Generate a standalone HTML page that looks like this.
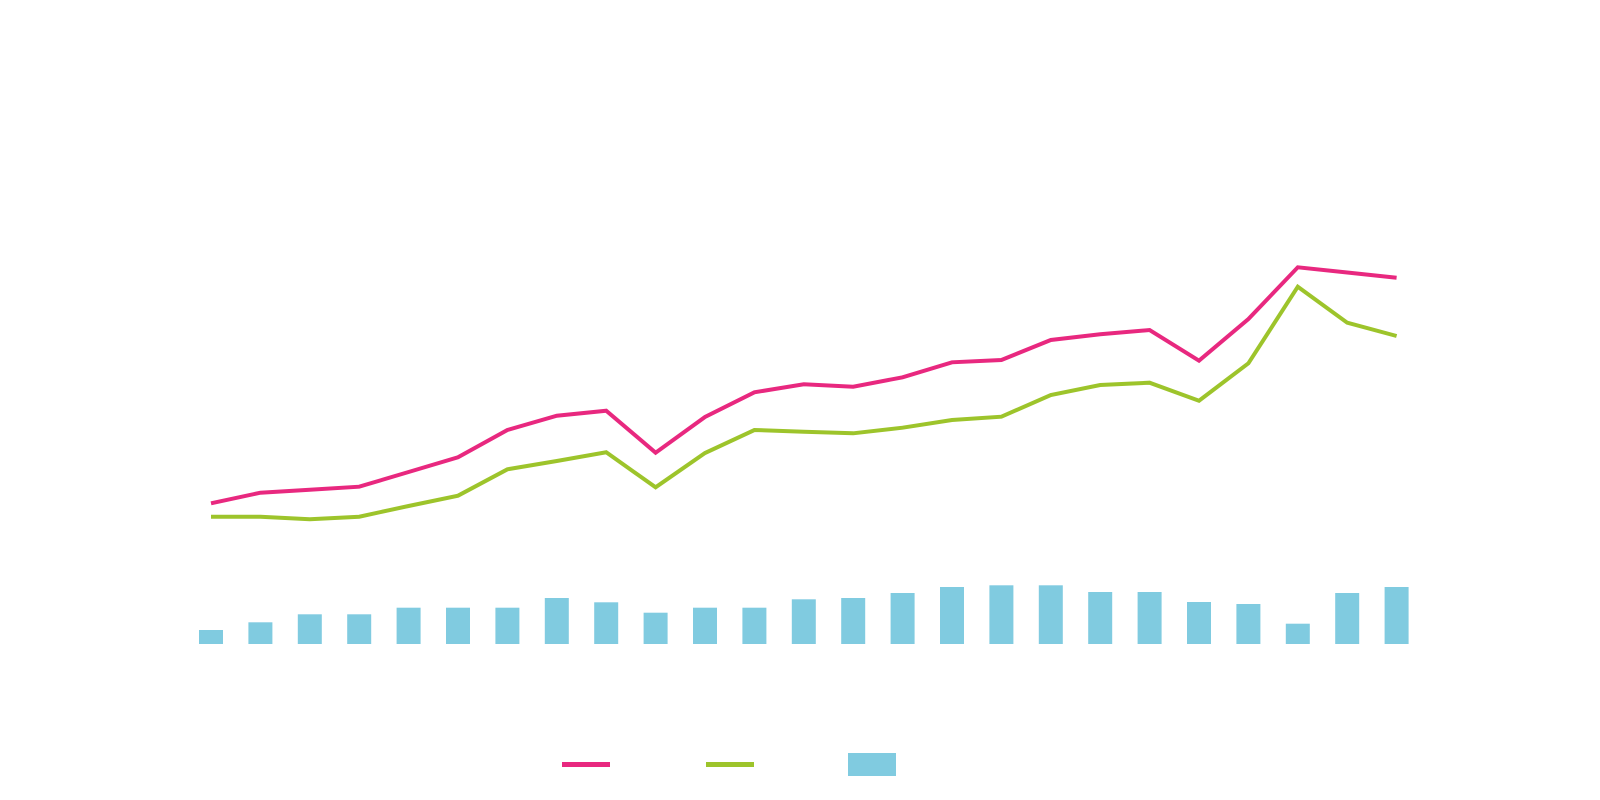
<!DOCTYPE html>
<html>
<head>
<meta charset="utf-8">
<style>
  html, body { margin: 0; padding: 0; background: #ffffff; }
  body { width: 1600px; height: 800px; overflow: hidden; font-family: "Liberation Sans", sans-serif; }
  svg { display: block; }
</style>
</head>
<body>
<svg width="1600" height="800" viewBox="0 0 1600 800" xmlns="http://www.w3.org/2000/svg">
  <rect x="0" y="0" width="1600" height="800" fill="#ffffff"/>
  <g fill="#80cbe0">
    <rect x="199" y="630" width="24" height="14"/>
    <rect x="248.4" y="622.3" width="24" height="21.7"/>
    <rect x="297.8" y="614.3" width="24" height="29.7"/>
    <rect x="347.2" y="614.3" width="24" height="29.7"/>
    <rect x="396.6" y="607.7" width="24" height="36.3"/>
    <rect x="446" y="607.7" width="24" height="36.3"/>
    <rect x="495.4" y="607.7" width="24" height="36.3"/>
    <rect x="544.8" y="598" width="24" height="46"/>
    <rect x="594.2" y="602.3" width="24" height="41.7"/>
    <rect x="643.6" y="612.7" width="24" height="31.3"/>
    <rect x="693" y="607.7" width="24" height="36.3"/>
    <rect x="742.4" y="607.7" width="24" height="36.3"/>
    <rect x="791.8" y="599.3" width="24" height="44.7"/>
    <rect x="841.2" y="598" width="24" height="46"/>
    <rect x="890.6" y="593" width="24" height="51"/>
    <rect x="940" y="587" width="24" height="57"/>
    <rect x="989.4" y="585.3" width="24" height="58.7"/>
    <rect x="1038.8" y="585.3" width="24" height="58.7"/>
    <rect x="1088.2" y="592" width="24" height="52"/>
    <rect x="1137.6" y="592" width="24" height="52"/>
    <rect x="1187" y="602" width="24" height="42"/>
    <rect x="1236.4" y="604" width="24" height="40"/>
    <rect x="1285.8" y="623.7" width="24" height="20.3"/>
    <rect x="1335.2" y="593" width="24" height="51"/>
    <rect x="1384.6" y="587" width="24" height="57"/>
  </g>
  <polyline fill="none" stroke="#e8287f" stroke-width="4" stroke-linejoin="miter"
    points="211,503.3 260.4,492.7 309.8,489.7 359.2,486.7 408.6,472 458,457.3 507.4,430 556.8,415.7 606.2,410.7 655.6,452.7 705,417 754.4,392.3 803.8,384.3 853.2,386.7 902.6,377.3 952,362.3 1001.4,360 1050.8,340 1100.2,334.3 1149.6,330 1199,360.7 1248.4,319 1297.8,267.3 1347.2,272.5 1396.6,277.7"/>
  <polyline fill="none" stroke="#9dc42b" stroke-width="4" stroke-linejoin="miter"
    points="211,516.7 260.4,516.7 309.8,519.3 359.2,516.7 408.6,506 458,495.7 507.4,469.3 556.8,461 606.2,452.3 655.6,487.3 705,453 754.4,430 803.8,431.7 853.2,433.3 902.6,427.7 952,420 1001.4,416.7 1050.8,395 1100.2,385 1149.6,382.7 1199,400.7 1248.4,363.3 1297.8,286.7 1347.2,322.7 1396.6,336"/>
  <!-- legend -->
  <rect x="562" y="762" width="48" height="5" fill="#e8287f"/>
  <rect x="706" y="762" width="48" height="5" fill="#9dc42b"/>
  <rect x="848" y="753" width="48" height="23" fill="#80cbe0"/>
</svg>
</body>
</html>
